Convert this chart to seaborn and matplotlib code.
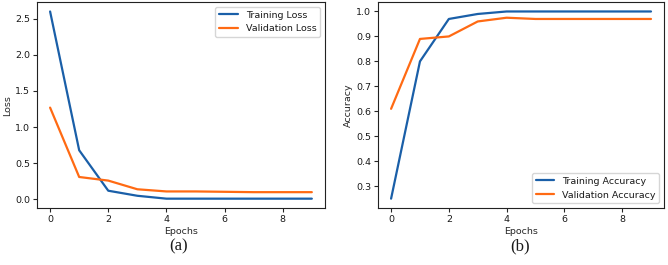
import numpy as np
import pandas as pd
import matplotlib
matplotlib.use('Agg')
import matplotlib.pyplot as plt
import seaborn as sns

# data
epochs = list(range(10))
train_loss = [2.60, 0.68, 0.12, 0.05, 0.01, 0.01, 0.01, 0.01, 0.01, 0.01]
val_loss = [1.27, 0.31, 0.26, 0.14, 0.11, 0.11, 0.105, 0.10, 0.10, 0.10]
train_acc = [0.25, 0.80, 0.97, 0.99, 1.0, 1.0, 1.0, 1.0, 1.0, 1.0]
val_acc = [0.61, 0.89, 0.90, 0.96, 0.975, 0.97, 0.97, 0.97, 0.97, 0.97]

blue = '#1a5fa8'
orange = '#ff6a13'
fs = 6.8

sns.set_style('ticks')
plt.rcParams['font.family'] = ['DejaVu Sans']
plt.rcParams['font.size'] = fs
plt.rcParams['text.color'] = '#1a1a1a'

fig = plt.figure(figsize=(6.68, 2.65), dpi=100)
ax1 = fig.add_axes([0.0554, 0.215, 0.431, 0.777])
ax2 = fig.add_axes([0.566, 0.215, 0.428, 0.777])

# (a) loss
sns.lineplot(x=epochs, y=train_loss, ax=ax1, color=blue, lw=1.6, label='Training Loss')
sns.lineplot(x=epochs, y=val_loss, ax=ax1, color=orange, lw=1.6, label='Validation Loss')
ax1.set_xlabel('Epochs', fontsize=fs, labelpad=2)
ax1.set_ylabel('Loss', fontsize=fs, labelpad=2)
ax1.set_xticks([0, 2, 4, 6, 8])
ax1.set_yticks([0.0, 0.5, 1.0, 1.5, 2.0, 2.5])
ax1.legend(loc='upper right', fontsize=fs)

# (b) accuracy
sns.lineplot(x=epochs, y=train_acc, ax=ax2, color=blue, lw=1.6, label='Training Accuracy')
sns.lineplot(x=epochs, y=val_acc, ax=ax2, color=orange, lw=1.6, label='Validation Accuracy')
ax2.set_xlabel('Epochs', fontsize=fs, labelpad=2)
ax2.set_ylabel('Accuracy', fontsize=fs, labelpad=2)
ax2.set_xticks([0, 2, 4, 6, 8])
ax2.legend(loc='lower right', fontsize=fs)

for ax in (ax1, ax2):
    ax.tick_params(labelsize=fs, length=3, pad=2, labelcolor='#1a1a1a')
    for s in ax.spines.values():
        s.set_color('#222222')
        s.set_linewidth(0.8)

fig.text(0.268, 0.055, '(a)', family='Liberation Serif', fontsize=12, ha='center')
fig.text(0.778, 0.055, '(b)', family='Liberation Serif', fontsize=12, ha='center')

fig.savefig('out.png', dpi=100)
